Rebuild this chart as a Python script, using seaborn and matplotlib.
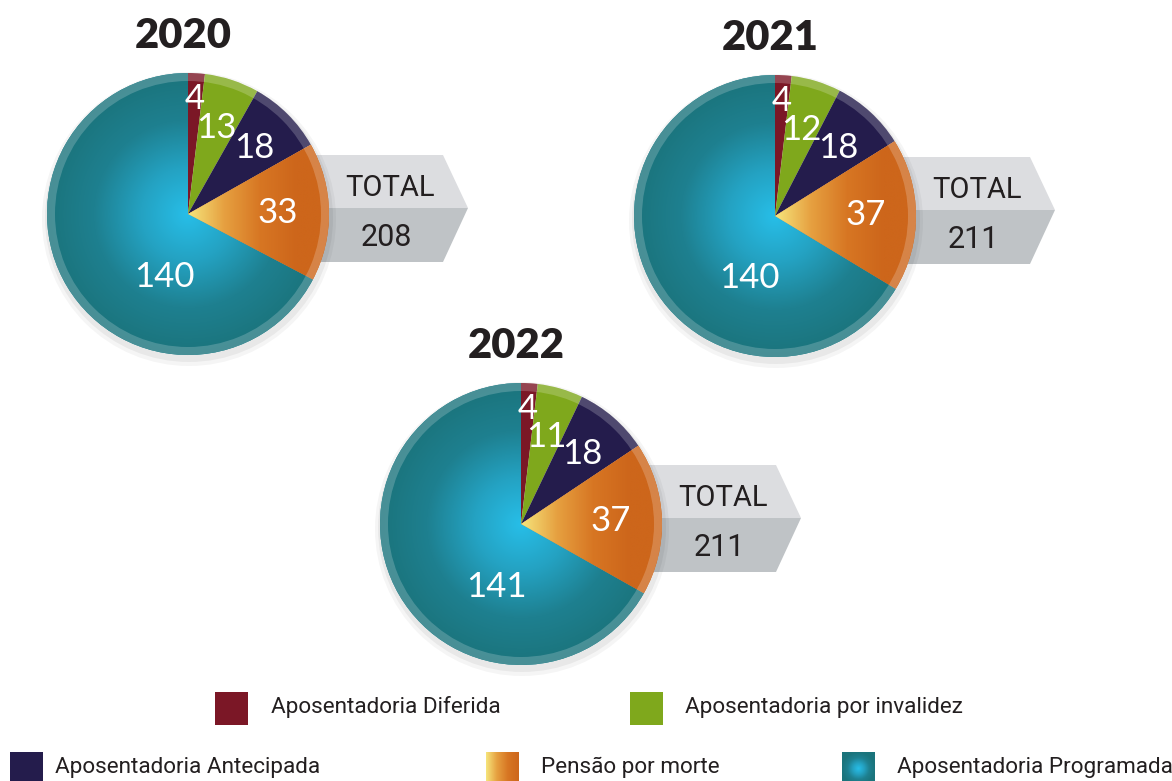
import numpy as np
import matplotlib
matplotlib.use("Agg")
import matplotlib.pyplot as plt
import seaborn as sns
from matplotlib.colors import LinearSegmentedColormap
from matplotlib.patches import Polygon, Wedge, Rectangle, Circle

# data
categories = [
    "Aposentadoria Diferida",
    "Aposentadoria por invalidez",
    "Aposentadoria Antecipada",
    "Pensão por morte",
    "Aposentadoria Programada",
]
years = ["2020", "2021", "2022"]
values_2020 = [4, 13, 18, 33, 140]
values_2021 = [4, 12, 18, 37, 140]
values_2022 = [4, 11, 18, 37, 141]
values = [values_2020, values_2021, values_2022]

sns.set_theme(style="white")
plt.rcParams["font.family"] = ["Lato", "DejaVu Sans"]
narrow = ["Roboto", "DejaVu Sans"]
dark = "#231f20"

W, H = 1172, 781
fig = plt.figure(figsize=(W / 100, H / 100), dpi=100)
ax = fig.add_axes([0, 0, 1, 1])

colors = ["#7b1726", "#7fa81c", "#241c4c", "#d06a1f", "#1e8a99"]
teal_cmap = LinearSegmentedColormap.from_list(
    "teal", ["#27bee8", "#24a2c2", "#1e8090", "#1b747c"])
orange_cmap = LinearSegmentedColormap.from_list(
    "orange", ["#f6e57c", "#e6a040", "#d77623", "#cd661b"])

# pie centres in pixel space (y up)
centers = [(188, 567), (775, 565), (521, 257)]
R = 141
label_r = [0.82, 0.64, 0.66, 0.64, 0.48]


def radial(x0, x1, y0, y1, cmap, clip, z):
    xs = np.linspace(-1, 1, 300)
    xx, yy = np.meshgrid(xs, xs)
    d = np.clip(np.hypot(xx, yy), 0, 1)
    im = ax.imshow(d, cmap=cmap, vmin=0, vmax=1, extent=(x0, x1, y0, y1),
                   origin="lower", interpolation="bilinear", zorder=z, aspect="auto")
    if clip is not None:
        im.set_clip_path(clip)


def linear(x0, x1, y0, y1, cmap, clip, z, stretch=1.0):
    g = np.tile(np.clip(np.linspace(0, stretch, 300), 0, 1), (2, 1))
    im = ax.imshow(g, cmap=cmap, vmin=0, vmax=1, extent=(x0, x1, y0, y1),
                   origin="lower", interpolation="bilinear", zorder=z, aspect="auto")
    if clip is not None:
        im.set_clip_path(clip)


for (cx, cy), year, vals in zip(centers, years, values):
    # total banner
    top, bot, mid = cy + 59, cy - 48, cy + 6
    left, right, tip = cx + 100, cx + 255, cx + 280
    ax.add_patch(Polygon([(left, mid), (left, top), (right, top), (tip, mid)],
                         closed=True, fc="#dcdde0", ec="none", zorder=1))
    ax.add_patch(Polygon([(left, mid), (tip, mid), (right, bot), (left, bot)],
                         closed=True, fc="#bfc3c6", ec="none", zorder=1))
    ax.text(cx + 202, cy + 26, "TOTAL", fontsize=21, family=narrow, color=dark,
            ha="center", va="center", zorder=6)
    ax.text(cx + 198, cy - 23, str(sum(vals)), fontsize=22, family=narrow, color=dark,
            ha="center", va="center", zorder=6)

    # soft shadow
    ax.add_patch(Circle((cx + 1, cy - 5), R + 6, fc="black", alpha=0.04, ec="none", zorder=1.5))
    ax.add_patch(Circle((cx + 1, cy - 4), R + 3, fc="black", alpha=0.05, ec="none", zorder=1.6))

    wedges, _ = ax.pie(vals, colors=colors, startangle=90, counterclock=False,
                       center=(cx, cy), radius=R, wedgeprops=dict(linewidth=0))
    for w in wedges:
        w.set_zorder(2)
    radial(cx - R, cx + R, cy - R, cy + R, teal_cmap, wedges[4], 3)
    linear(cx, cx + R, cy - R, cy + R, orange_cmap, wedges[3], 3, stretch=1.3)

    # light rim
    ax.add_patch(Wedge((cx, cy), R, 0, 360, width=8, fc="white", alpha=0.2,
                       ec="none", zorder=4))

    for i, (w, v) in enumerate(zip(wedges, vals)):
        ang = (w.theta1 + w.theta2) / 2
        if i == 4:
            ang += 38
        rr = label_r[i] * R
        ax.text(cx + rr * np.cos(np.radians(ang)), cy + rr * np.sin(np.radians(ang)),
                str(v), fontsize=25, fontweight="normal", color="white",
                ha="center", va="center", zorder=6)

    ax.text(cx - 5, cy + 178, year, fontsize=30, fontweight="heavy", color=dark,
            ha="center", va="center", zorder=6)

# legend
leg_pos = [(215, 56), (630, 56), (10, -4), (486, -4), (842, -4)]
leg_text_x = [271, 685, 55, 541, 897]
sq = 33
for i, (lx, ly) in enumerate(leg_pos):
    if i == 3:
        linear(lx, lx + sq, ly, ly + sq, orange_cmap, None, 3)
    elif i == 4:
        radial(lx, lx + sq, ly, ly + sq, teal_cmap, None, 3)
    else:
        ax.add_patch(Rectangle((lx, ly), sq, sq, fc=colors[i], ec="none", zorder=3))
    ax.text(leg_text_x[i], ly + sq / 2 + 1, categories[i], fontsize=16.2, family=narrow,
            color=dark, ha="left", va="center", zorder=6)

ax.set_xlim(0, W)
ax.set_ylim(0, H)
ax.set_aspect("auto")
ax.axis("off")

fig.savefig("out.png", dpi=100)
